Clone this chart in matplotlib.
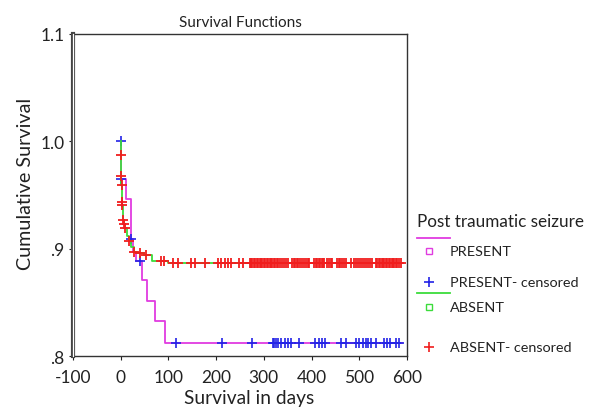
# plot.py
"""
Kaplan-Meier style survival plot: post traumatic seizure PRESENT vs ABSENT.
"""

import numpy as np
import matplotlib
matplotlib.use('Agg')
import matplotlib.pyplot as plt
from matplotlib.lines import Line2D

plt.rcParams['font.family'] = ['Lato', 'DejaVu Sans']

# ---------------------------------------------------------------------------------------------
# Data

# PRESENT group: step times (days) and survival after each step
present_t = [0, 1, 10, 21, 26, 31, 45, 55, 71, 93]
present_s = [1.0, 0.965, 0.946, 0.909, 0.897, 0.889, 0.871, 0.851, 0.833, 0.812]
present_end = 590
present_censored = [0, 1.5, 22, 40, 116, 212, 276, 319, 322, 326, 329, 336, 344, 351, 357, 373,
                    408, 415, 422, 429, 462, 472, 493, 500, 508, 515, 519, 524, 535, 552, 559,
                    564, 577, 584]

# ABSENT group
absent_t = [0, 0.3, 1, 1.5, 2.5, 3, 5, 7, 9, 13, 17, 22, 27, 35, 48, 65, 100]
absent_s = [1.0, 0.987, 0.968, 0.959, 0.943, 0.941, 0.927, 0.923, 0.919, 0.912, 0.907,
            0.902, 0.897, 0.896, 0.894, 0.889, 0.887]
absent_end = 590
absent_censored = [0.5, 1.2, 1.8, 2.8, 3.5, 5.5, 7.5, 9.5, 17.5, 27.5, 40, 52,
                   85, 90, 109, 120, 148, 155, 177, 203, 210, 218, 225, 232, 249, 256,
                   270, 273, 276, 279, 282, 285, 288, 291, 294, 297, 300, 303, 306, 309,
                   312, 315, 318, 321, 324, 327, 330, 333, 339, 343, 347, 351, 360, 363,
                   366, 369, 372, 376, 380, 384, 388, 392, 395, 406, 409, 412, 415, 418,
                   421, 424, 427, 433, 436, 440, 444, 454, 457, 460, 464, 468, 472, 483,
                   490, 494, 498, 502, 506, 510, 514, 518, 522, 527, 535, 538, 541, 544,
                   547, 550, 553, 556, 559, 562, 565, 568, 571, 574, 577, 580, 584, 588]

x_ticks = [-100, 0, 100, 200, 300, 400, 500, 600]
y_ticks = [0.8, 0.9, 1.0, 1.1]
y_tick_labels = ['.8', '.9', '1.0', '1.1']

MAGENTA = '#e03ce0'
BLUE = '#2323e6'
GREEN = '#3cdc3c'
RED = '#f01e1e'
TEXT = '#222222'


def step_value(times, surv, t):
    """Survival value of a right-continuous step function at time(s) t."""
    idx = np.searchsorted(np.asarray(times), np.asarray(t), side='right') - 1
    return np.asarray(surv)[np.clip(idx, 0, None)]


# ---------------------------------------------------------------------------------------------
fig = plt.figure(figsize=(5.94, 4.10), dpi=100)
ax = fig.add_axes([0.123, 0.129, 0.562, 0.786])

# PRESENT
ax.step(present_t + [present_end], present_s + [present_s[-1]], where='post',
        color=MAGENTA, lw=1.3, zorder=2)
ax.plot(present_censored, step_value(present_t, present_s, present_censored), '+',
        color=BLUE, ms=7.5, mew=1.2, zorder=3)

# ABSENT
ax.step(absent_t + [absent_end], absent_s + [absent_s[-1]], where='post',
        color=GREEN, lw=1.3, zorder=4)
ax.plot(absent_censored, step_value(absent_t, absent_s, absent_censored), '+',
        color=RED, ms=7.5, mew=1.3, zorder=5)

ax.set_xlim(-100, 600)
ax.set_ylim(0.8, 1.1)
ax.set_xticks(x_ticks)
ax.set_xticklabels([str(v) for v in x_ticks])
ax.set_yticks(y_ticks)
ax.set_yticklabels(y_tick_labels)
ax.tick_params(labelsize=12.5, length=3, width=0.8, colors=TEXT)
ax.tick_params(axis='x', pad=6)
ax.tick_params(axis='y', pad=3)

for side in ['top', 'right', 'bottom']:
    ax.spines[side].set_linewidth(1.0)
    ax.spines[side].set_color('#333333')
ax.spines['left'].set_linewidth(3.0)
ax.spines['left'].set_color('#444444')
# double-line look on the left axis
ax.plot([0, 0], [0, 1], transform=ax.transAxes, color='white', lw=0.9, clip_on=False, zorder=10)

ax.set_title('Survival Functions', fontsize=11, pad=6, color=TEXT)
ax.set_xlabel('Survival in days', fontsize=13.8, color=TEXT, va='center')
ax.set_ylabel('Cumulative Survival', fontsize=14.2, color=TEXT, va='center')
# label positions in axes coordinates
ax.xaxis.set_label_coords((249 - 73) / 334, -(398 - 357) / 322)
ax.yaxis.set_label_coords(-(73 - 25) / 334, (357 - 184) / 322)

# ---------------------------------------------------------------------------------------------
# Legend drawn to the right of the axes (figure pixel coordinates)
W, H = 594.0, 410.0


def fx(px):
    return px / W


def fy(py):
    return 1 - py / H


fig.text(fx(417), fy(222), 'Post traumatic seizure', fontsize=12.3, va='center', ha='left', color=TEXT)

legend_rows = [
    ('line', MAGENTA, None, 239),
    ('s', MAGENTA, 'PRESENT', 252),
    ('+', BLUE, 'PRESENT- censored', 283),
    ('line', GREEN, None, 294),
    ('s', GREEN, 'ABSENT', 308),
    ('+', RED, 'ABSENT- censored', 348),
]
for kind, color, label, py in legend_rows:
    if kind == 'line':
        fig.add_artist(Line2D([fx(417), fx(450)], [fy(py), fy(py)], color=color, lw=1.3))
    elif kind == 's':
        fig.add_artist(Line2D([fx(429)], [fy(py)], marker='s', ms=4, mfc='none', mec=color,
                              mew=1.0, ls='none'))
    else:
        fig.add_artist(Line2D([fx(429)], [fy(py)], marker='+', ms=6.5, mec=color,
                              mew=1.2, ls='none'))
    if label:
        fig.text(fx(450), fy(py), label, fontsize=10.4, va='center', ha='left', color=TEXT)

fig.savefig('out.png', dpi=100)
